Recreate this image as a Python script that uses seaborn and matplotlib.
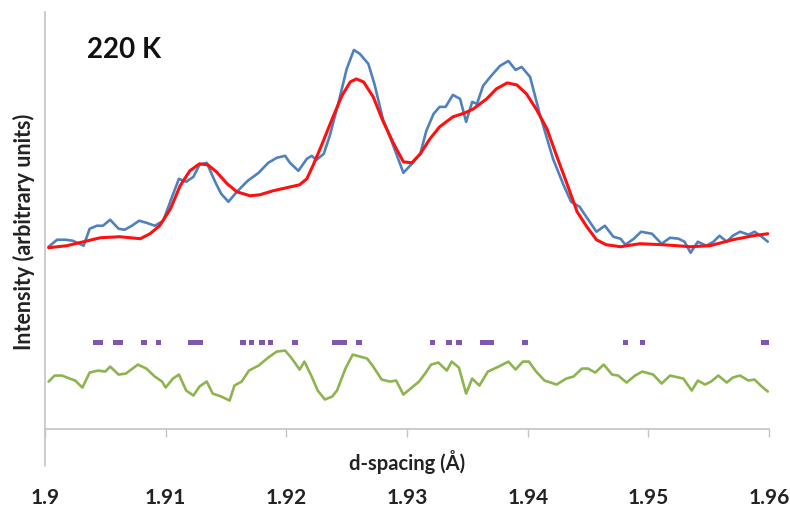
import matplotlib
matplotlib.use("Agg")
import matplotlib.pyplot as plt
import seaborn as sns
import pandas as pd

# Observed intensity (d-spacing in Å, arbitrary units)
obs_d = [1.9003, 1.9010, 1.9017, 1.9023, 1.9032, 1.9037, 1.9043, 1.9048, 1.9054, 1.9061,
         1.9066, 1.9072, 1.9078, 1.9084, 1.9091, 1.9098, 1.9105, 1.9111, 1.9117, 1.9123,
         1.9128, 1.9134, 1.9141, 1.9146, 1.9152, 1.9159, 1.9168, 1.9177, 1.9185, 1.9192,
         1.9199, 1.9203, 1.9210, 1.9217, 1.9221, 1.9225, 1.9231, 1.9236, 1.9244, 1.9250,
         1.9256, 1.9261, 1.9268, 1.9273, 1.9280, 1.9289, 1.9297, 1.9304, 1.9311, 1.9316,
         1.9322, 1.9327, 1.9332, 1.9338, 1.9344, 1.9349, 1.9354, 1.9358, 1.9363, 1.9369,
         1.9377, 1.9384, 1.9390, 1.9395, 1.9402, 1.9410, 1.9421, 1.9430, 1.9436, 1.9443,
         1.9448, 1.9457, 1.9464, 1.9471, 1.9477, 1.9481, 1.9488, 1.9494, 1.9503, 1.9511,
         1.9518, 1.9525, 1.9530, 1.9535, 1.9541, 1.9548, 1.9554, 1.9559, 1.9565, 1.9570,
         1.9576, 1.9583, 1.9588, 1.9594, 1.9599]
obs_i = [182, 189, 189, 188, 183, 200, 203, 203, 209, 200,
         199, 203, 208, 206, 203, 208, 231, 250, 247, 252,
         264, 266, 247, 235, 227, 237, 248, 256, 266, 271,
         273, 266, 258, 270, 273, 269, 275, 293, 330, 360,
         379, 375, 365, 345, 310, 282, 256, 265, 275, 298,
         315, 322, 322, 334, 330, 307, 327, 325, 343, 352,
         363, 368, 359, 362, 352, 315, 270, 243, 227, 222,
         213, 197, 203, 192, 190, 184, 190, 197, 195, 185,
         191, 190, 187, 176, 187, 183, 187, 193, 187, 193,
         197, 194, 197, 192, 187]

# Calculated profile
calc_d = [1.9003, 1.9018, 1.9032, 1.9046, 1.9062, 1.9079, 1.9087, 1.9095, 1.9104, 1.9112,
          1.9120, 1.9128, 1.9135, 1.9142, 1.9151, 1.9159, 1.9170, 1.9178, 1.9189, 1.9200,
          1.9211, 1.9217, 1.9222, 1.9229, 1.9238, 1.9246, 1.9253, 1.9258, 1.9264, 1.9272,
          1.9280, 1.9289, 1.9297, 1.9304, 1.9311, 1.9319, 1.9327, 1.9338, 1.9348, 1.9355,
          1.9366, 1.9374, 1.9383, 1.9391, 1.9399, 1.9407, 1.9416, 1.9424, 1.9432, 1.9441,
          1.9449, 1.9457, 1.9465, 1.9477, 1.9493, 1.9512, 1.9535, 1.9551, 1.9570, 1.9587,
          1.9599]
calc_i = [181, 183, 187, 191, 192, 190, 195, 203, 220, 243,
          258, 265, 264, 257, 245, 237, 233, 234, 238, 241,
          244, 250, 263, 283, 310, 333, 347, 350, 347, 332,
          308, 285, 267, 266, 275, 290, 302, 312, 316, 320,
          330, 340, 346, 344, 335, 320, 300, 273, 247, 217,
          202, 189, 184, 182, 185, 184, 182, 183, 189, 193,
          195]

# Difference curve (offset)
diff_d = [1.9003, 1.9008, 1.9014, 1.9025, 1.9031, 1.9037, 1.9044, 1.9050, 1.9054, 1.9061,
          1.9067, 1.9077, 1.9084, 1.9091, 1.9097, 1.9100, 1.9106, 1.9111, 1.9117, 1.9123,
          1.9128, 1.9134, 1.9139, 1.9146, 1.9153, 1.9157, 1.9163, 1.9169, 1.9177, 1.9185,
          1.9192, 1.9199, 1.9204, 1.9211, 1.9215, 1.9221, 1.9226, 1.9232, 1.9238, 1.9242,
          1.9249, 1.9255, 1.9261, 1.9267, 1.9272, 1.9279, 1.9286, 1.9291, 1.9297, 1.9304,
          1.9310, 1.9315, 1.9320, 1.9326, 1.9333, 1.9337, 1.9343, 1.9349, 1.9354, 1.9360,
          1.9367, 1.9376, 1.9384, 1.9390, 1.9396, 1.9401, 1.9407, 1.9414, 1.9424, 1.9432,
          1.9438, 1.9445, 1.9450, 1.9456, 1.9463, 1.9470, 1.9475, 1.9482, 1.9489, 1.9495,
          1.9504, 1.9511, 1.9518, 1.9529, 1.9536, 1.9541, 1.9547, 1.9552, 1.9558, 1.9565,
          1.9570, 1.9576, 1.9583, 1.9588, 1.9594, 1.9599]
diff_i = [47, 53, 53, 48, 41, 56, 58, 57, 62, 54,
          55, 64, 60, 52, 47, 41, 50, 54, 38, 33,
          42, 47, 35, 32, 28, 43, 47, 58, 63, 71,
          77, 78, 71, 59, 67, 52, 38, 29, 32, 38,
          60, 74, 72, 70, 62, 49, 47, 48, 34, 41,
          47, 55, 64, 66, 58, 67, 61, 35, 50, 43,
          57, 62, 67, 59, 67, 67, 57, 48, 44, 50,
          52, 60, 60, 56, 64, 54, 53, 46, 53, 57,
          54, 45, 53, 50, 38, 48, 44, 47, 53, 46,
          51, 53, 48, 49, 42, 37]

# Reflection positions
refl_d = [1.9042, 1.9046, 1.9059, 1.9062, 1.9082, 1.9094, 1.9121, 1.9125, 1.9129, 1.9164,
          1.9171, 1.9180, 1.9187, 1.9207, 1.9240, 1.9244, 1.9248, 1.9260, 1.9321, 1.9335,
          1.9343, 1.9363, 1.9367, 1.9370, 1.9398, 1.9481, 1.9495, 1.9596, 1.9599]
refl_level = 86

x_ticks = [1.90, 1.91, 1.92, 1.93, 1.94, 1.95, 1.96]
x_tick_labels = ["1.9", "1.91", "1.92", "1.93", "1.94", "1.95", "1.96"]

sns.set_theme(style="white")
plt.rcParams["font.family"] = ["Lato", "DejaVu Sans"]

fig = plt.figure(figsize=(7.9, 5.1), dpi=100)
ax = fig.add_axes([45 / 790, (510 - 429.5) / 510, 724 / 790, 416.5 / 510])

obs = pd.DataFrame({"d": obs_d, "I": obs_i})
calc = pd.DataFrame({"d": calc_d, "I": calc_i})
diff = pd.DataFrame({"d": diff_d, "I": diff_i})
refl = pd.DataFrame({"d": refl_d, "I": [refl_level] * len(refl_d)})

sns.lineplot(data=obs, x="d", y="I", ax=ax, color="#4f81bd", lw=1.9, sort=False)
sns.lineplot(data=calc, x="d", y="I", ax=ax, color="#ff1010", lw=2.2, sort=False)
sns.lineplot(data=diff, x="d", y="I", ax=ax, color="#8db44f", lw=1.9, sort=False)
sns.scatterplot(data=refl, x="d", y="I", ax=ax, marker="s", s=16, color="#7d57ad",
                edgecolor="none", linewidth=0)
for line in ax.get_lines():
    line.set_solid_joinstyle("round")
    line.set_solid_capstyle("round")

ax.set_xlim(1.9, 1.96)
ax.set_ylim(0, 417)

spine_col = "#c3c3c3"
for side in ["top", "right"]:
    ax.spines[side].set_visible(False)
for side in ["left", "bottom"]:
    ax.spines[side].set_color(spine_col)
    ax.spines[side].set_linewidth(1.2)
# left axis line continues a little below the d-spacing axis
ax.plot([1.9, 1.9], [0, -38], color=spine_col, lw=1.2, clip_on=False)

ax.set_yticks([])
ax.set_xticks(x_ticks)
ax.set_xticklabels(x_tick_labels)
ax.tick_params(axis="x", direction="out", length=6, width=1.0, color=spine_col,
               pad=36, labelsize=15, labelcolor="#222222", bottom=True)
for lab in ax.get_xticklabels():
    lab.set_fontweight("bold")

ax.set_xlabel("d-spacing (Å)", fontsize=14.5, fontweight="bold", color="#222222")
ax.xaxis.set_label_coords(0.5, -0.05)
ax.set_ylabel("Intensity (arbitrary units)", fontsize=15.5, fontweight="bold", color="#222222")
ax.yaxis.set_label_coords(-0.014, 0.475)

ax.text(0.058, 0.912, "220 K", transform=ax.transAxes, fontsize=20, fontweight="bold",
        color="#111111", ha="left", va="center")

fig.savefig("out.png", dpi=100)
